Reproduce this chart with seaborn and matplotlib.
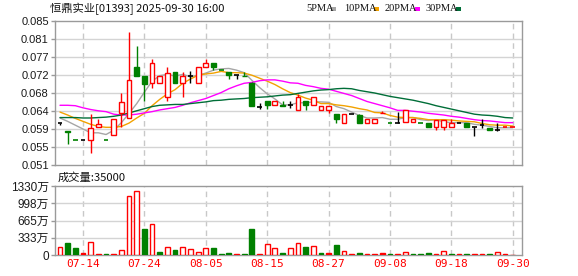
import numpy as np
import pandas as pd
import matplotlib
matplotlib.use("Agg")
import matplotlib.pyplot as plt
import seaborn as sns

# ---------------- data ----------------
dates = ["07-09", "07-10", "07-11", "07-14", "07-15", "07-16", "07-17", "07-18",
         "07-21", "07-22", "07-23", "07-24", "07-25", "07-28", "07-29", "07-30",
         "07-31", "08-01", "08-04", "08-05", "08-06", "08-07", "08-08", "08-11",
         "08-12", "08-13", "08-14", "08-15", "08-18", "08-19", "08-20", "08-21",
         "08-22", "08-25", "08-26", "08-27", "08-28", "08-29", "09-01", "09-02",
         "09-03", "09-04", "09-05", "09-08", "09-09", "09-10", "09-11", "09-12",
         "09-15", "09-16", "09-17", "09-18", "09-19", "09-22", "09-23", "09-24",
         "09-25", "09-26", "09-29", "09-30"]

open_ = [0.0608, 0.0590, 0.0568, 0.0568, 0.0569, 0.0600, 0.0568, 0.0580, 0.0632, 0.0620,
         0.0741, 0.0720, 0.0704, 0.0703, 0.0671, 0.0729, 0.0703, 0.0721, 0.0703, 0.0742,
         0.0750, 0.0734, 0.0729, 0.0722, 0.0721, 0.0703, 0.0648, 0.0660, 0.0652, 0.0652,
         0.0652, 0.0641, 0.0660, 0.0652, 0.0641, 0.0641, 0.0630, 0.0610, 0.0630, 0.0628,
         0.0610, 0.0610, 0.0632, 0.0610, 0.0610, 0.0611, 0.0611, 0.0608, 0.0608, 0.0600,
         0.0600, 0.0600, 0.0608, 0.0608, 0.0600, 0.0605, 0.0598, 0.0592, 0.0599, 0.0600]
close = [0.0608, 0.0589, 0.0568, 0.0568, 0.0597, 0.0607, 0.0568, 0.0618, 0.0658, 0.0711,
         0.0721, 0.0701, 0.0750, 0.0720, 0.0728, 0.0703, 0.0719, 0.0721, 0.0741, 0.0750,
         0.0741, 0.0734, 0.0723, 0.0722, 0.0720, 0.0650, 0.0648, 0.0652, 0.0660, 0.0650,
         0.0652, 0.0671, 0.0652, 0.0670, 0.0649, 0.0649, 0.0618, 0.0630, 0.0630, 0.0610,
         0.0618, 0.0618, 0.0633, 0.0610, 0.0610, 0.0640, 0.0619, 0.0608, 0.0600, 0.0616,
         0.0616, 0.0608, 0.0608, 0.0600, 0.0600, 0.0605, 0.0592, 0.0592, 0.0599, 0.0600]
high = [0.0609, 0.0590, 0.0568, 0.0568, 0.0630, 0.0618, 0.0568, 0.0618, 0.0679, 0.0823,
        0.0791, 0.0720, 0.0760, 0.0720, 0.0741, 0.0729, 0.0729, 0.0732, 0.0741, 0.0760,
        0.0750, 0.0734, 0.0729, 0.0722, 0.0730, 0.0705, 0.0656, 0.0660, 0.0660, 0.0660,
        0.0660, 0.0678, 0.0660, 0.0670, 0.0649, 0.0649, 0.0630, 0.0630, 0.0630, 0.0630,
        0.0618, 0.0618, 0.0638, 0.0610, 0.0636, 0.0640, 0.0619, 0.0608, 0.0608, 0.0616,
        0.0616, 0.0619, 0.0608, 0.0608, 0.0600, 0.0619, 0.0598, 0.0608, 0.0599, 0.0600]
low = [0.0604, 0.0560, 0.0568, 0.0568, 0.0539, 0.0600, 0.0568, 0.0580, 0.0600, 0.0620,
       0.0721, 0.0661, 0.0691, 0.0703, 0.0660, 0.0703, 0.0671, 0.0703, 0.0703, 0.0742,
       0.0734, 0.0734, 0.0712, 0.0712, 0.0720, 0.0650, 0.0642, 0.0642, 0.0652, 0.0650,
       0.0644, 0.0641, 0.0640, 0.0652, 0.0641, 0.0632, 0.0610, 0.0610, 0.0630, 0.0610,
       0.0610, 0.0610, 0.0632, 0.0610, 0.0610, 0.0611, 0.0611, 0.0608, 0.0600, 0.0593,
       0.0593, 0.0600, 0.0608, 0.0600, 0.0579, 0.0598, 0.0592, 0.0590, 0.0599, 0.0600]
# u = up (red hollow), d = down (green filled), n = unchanged (black)
candle_dir = list("nddnuuduuu" "dduuudunuu" "dddnddndud"
                  "nuduuudund" "uuudnuuddu" "uundnndnuu")

ma5 = [0.0621, 0.0613, 0.0604, 0.0595, 0.0586, 0.0586, 0.0582, 0.0592, 0.0610, 0.0632,
       0.0655, 0.0682, 0.0708, 0.0721, 0.0724, 0.0720, 0.0724, 0.0718, 0.0722, 0.0727,
       0.0734, 0.0737, 0.0738, 0.0734, 0.0728, 0.0710, 0.0693, 0.0678, 0.0666, 0.0652,
       0.0652, 0.0657, 0.0657, 0.0659, 0.0659, 0.0658, 0.0648, 0.0643, 0.0635, 0.0627,
       0.0621, 0.0621, 0.0622, 0.0618, 0.0618, 0.0622, 0.0622, 0.0617, 0.0615, 0.0617,
       0.0612, 0.0610, 0.0610, 0.0610, 0.0606, 0.0604, 0.0601, 0.0598, 0.0598, 0.0598]
ma10 = [0.0635, 0.0628, 0.0620, 0.0613, 0.0606, 0.0601, 0.0599, 0.0599, 0.0601, 0.0609,
        0.0621, 0.0632, 0.0650, 0.0665, 0.0678, 0.0688, 0.0703, 0.0713, 0.0722, 0.0725,
        0.0727, 0.0731, 0.0728, 0.0728, 0.0727, 0.0722, 0.0715, 0.0708, 0.0700, 0.0690,
        0.0681, 0.0675, 0.0668, 0.0663, 0.0655, 0.0655, 0.0652, 0.0650, 0.0647, 0.0643,
        0.0640, 0.0634, 0.0633, 0.0627, 0.0623, 0.0622, 0.0622, 0.0620, 0.0617, 0.0617,
        0.0617, 0.0616, 0.0614, 0.0613, 0.0612, 0.0608, 0.0605, 0.0604, 0.0604, 0.0602]
ma20 = [0.0651, 0.0651, 0.0650, 0.0645, 0.0641, 0.0638, 0.0636, 0.0630, 0.0628, 0.0628,
        0.0630, 0.0633, 0.0636, 0.0640, 0.0643, 0.0646, 0.0651, 0.0657, 0.0662, 0.0667,
        0.0674, 0.0681, 0.0690, 0.0697, 0.0703, 0.0705, 0.0709, 0.0711, 0.0711, 0.0708,
        0.0704, 0.0703, 0.0698, 0.0695, 0.0691, 0.0689, 0.0684, 0.0679, 0.0674, 0.0667,
        0.0660, 0.0655, 0.0650, 0.0645, 0.0639, 0.0639, 0.0637, 0.0635, 0.0632, 0.0630,
        0.0628, 0.0625, 0.0623, 0.0620, 0.0617, 0.0615, 0.0614, 0.0612, 0.0610, 0.0610]
ma30 = [0.0622, 0.0622, 0.0622, 0.0621, 0.0621, 0.0622, 0.0623, 0.0625, 0.0628, 0.0633,
        0.0638, 0.0643, 0.0648, 0.0651, 0.0652, 0.0653, 0.0653, 0.0655, 0.0657, 0.0659,
        0.0662, 0.0663, 0.0665, 0.0666, 0.0667, 0.0669, 0.0670, 0.0671, 0.0673, 0.0675,
        0.0676, 0.0679, 0.0682, 0.0685, 0.0687, 0.0688, 0.0690, 0.0691, 0.0690, 0.0686,
        0.0683, 0.0680, 0.0676, 0.0672, 0.0669, 0.0666, 0.0663, 0.0659, 0.0655, 0.0650,
        0.0646, 0.0642, 0.0638, 0.0634, 0.0630, 0.0628, 0.0627, 0.0625, 0.0622, 0.0621]

# volume in 万 shares
volume = [148, 238, 135, 45, 251, 10, 10, 10, 96, 1137,
          1235, 500, 598, 58, 148, 96, 148, 110, 58, 128,
          135, 10, 38, 10, 10, 500, 10, 212, 128, 38,
          128, 225, 148, 167, 38, 38, 193, 77, 10, 38,
          10, 10, 38, 10, 10, 51, 10, 10, 38, 10,
          77, 10, 10, 10, 10, 10, 10, 58, 10, 3.5]
# u = red hollow, d = green filled, f = red filled
volume_dir = list("uddfuuduuu" "udududuuuu" "dddudduuud"
                  "uududfduud" "uufduudddu" "ududuuduuu")

price_ticks = [0.051, 0.05525, 0.0595, 0.06375, 0.068, 0.07225, 0.0765, 0.08075, 0.085]
price_tick_labels = ["0.051", "0.055", "0.059", "0.064", "0.068", "0.072", "0.077", "0.081", "0.085"]
vol_ticks = [0, 333, 665, 998, 1330]
vol_tick_labels = ["0", "333万", "665万", "998万", "1330万"]
date_tick_labels = ["07-14", "07-24", "08-05", "08-15", "08-27", "09-08", "09-18", "09-30"]

title = "恒鼎实业[01393] 2025-09-30 16:00"
vol_title = "成交量:35000"
ma_names = ["5PMA", "10PMA", "20PMA", "30PMA"]
ma_colors = ["#a6a6a6", "#f2a200", "#ff00ff", "#006e38"]

# ---------------- style ----------------
sns.set_theme(style="white")
plt.rcParams["font.family"] = ["Liberation Sans", "Noto Sans CJK SC", "DejaVu Sans"]

RED = "#ff0000"
GREEN = "#008000"
BLACK = "#000000"
GRID = "#d4d4d4"
FRAME = "#9a9a9a"

W, H = 578, 276
fig = plt.figure(figsize=(W / 100, H / 100), dpi=100)
fig.patch.set_facecolor("white")

L, R = 55, 522
axp = fig.add_axes([L / W, 1 - 165 / H, (R - L) / W, (165 - 21) / H])
axv = fig.add_axes([L / W, 1 - 255 / H, (R - L) / W, (255 - 186) / H])

x = np.arange(len(close))
df = pd.DataFrame({"x": x, "open": open_, "close": close, "high": high, "low": low,
                   "dir": candle_dir, "ma5": ma5, "ma10": ma10, "ma20": ma20, "ma30": ma30,
                   "vol": volume, "vdir": volume_dir})
tick_pos = [dates.index(d) for d in date_tick_labels]

for ax in (axp, axv):
    ax.set_xlim(-0.65, 60.2)
    ax.set_facecolor("white")
    for s in ax.spines.values():
        s.set_color(FRAME)
        s.set_linewidth(1)
    for tp in tick_pos:
        ax.axvline(tp, color="#c8c8c8", lw=1, ls=(0, (4, 3)), zorder=0)

# ---------------- price panel ----------------
axp.set_ylim(0.051, 0.085)
for t in price_ticks[1:-1]:
    axp.axhline(t, color=GRID, lw=1, zorder=0)

# MA lines via seaborn
for name, col in zip(["ma5", "ma10", "ma20", "ma30"], ma_colors):
    sns.lineplot(data=df, x="x", y=name, color=col, lw=1.0, ax=axp, zorder=2, legend=False)

cmap = {"u": RED, "d": GREEN, "n": BLACK}
colors = [cmap[d] for d in df["dir"]]
axp.vlines(df["x"], df["low"], df["high"], colors=colors, lw=1, zorder=3)
bw = 0.62
for xi, o, c, d in zip(df["x"], df["open"], df["close"], df["dir"]):
    col = cmap[d]
    if abs(c - o) < 1e-9:
        axp.hlines(c, xi - bw / 2, xi + bw / 2, colors=col, lw=1.2, zorder=4)
    else:
        axp.bar(xi, abs(c - o), bottom=min(o, c), width=bw,
                facecolor="white" if d == "u" else col, edgecolor=col, lw=1, zorder=4)

axp.set_yticks(price_ticks)
axp.set_yticklabels(price_tick_labels, fontsize=8, color="#1a1a1a")
axp.set_xticks([])
axp.tick_params(axis="y", length=3, width=1, color=FRAME, pad=1.5, left=True)
axp.set_xlabel("")
axp.set_ylabel("")

# ---------------- volume panel ----------------
axv.set_ylim(0, 1330)
for t in vol_ticks[1:-1]:
    axv.axhline(t, color=GRID, lw=1, zorder=0)
vface = {"u": "white", "d": GREEN, "f": RED}
vedge = {"u": RED, "d": GREEN, "f": RED}
axv.bar(df["x"], df["vol"], width=bw,
        color=[vface[v] for v in df["vdir"]],
        edgecolor=[vedge[v] for v in df["vdir"]], lw=1, zorder=3)
axv.set_yticks(vol_ticks)
axv.set_yticklabels(vol_tick_labels, fontsize=8.5, color="#1a1a1a")
axv.tick_params(axis="y", length=3, width=1, color=FRAME, pad=1.5, left=True)
axv.set_xticks(tick_pos)
axv.set_xticklabels(date_tick_labels, fontsize=8, color=RED, family="DejaVu Sans Mono")
axv.tick_params(axis="x", length=0, pad=3)
axv.set_xlabel("")
axv.set_ylabel("")

# ---------------- header texts ----------------
fig.text(50 / W, 1 - 8.5 / H, title, fontsize=8.1, va="center", ha="left",
         family=["Noto Sans CJK SC", "DejaVu Sans"], color="#111111")
fig.text(58 / W, 1 - 177 / H, vol_title, fontsize=8.1, va="center", ha="left",
         family=["Noto Sans CJK SC", "DejaVu Sans"], color="#111111")

leg_x = [306, 344, 385, 426]
for lx, name, col in zip(leg_x, ma_names, ma_colors):
    fig.text(lx / W, 1 - 8.5 / H, name, fontsize=7.5, va="center", ha="left",
             family="Liberation Serif", color="#111111")
    sq_x = lx + (25 if name == "5PMA" else 30)
    fig.patches.append(plt.Rectangle((sq_x / W, 1 - 11 / H), 5 / W, 4 / H,
                                     transform=fig.transFigure, facecolor=col,
                                     edgecolor="none"))

fig.savefig("out.png", dpi=100, facecolor="white")
